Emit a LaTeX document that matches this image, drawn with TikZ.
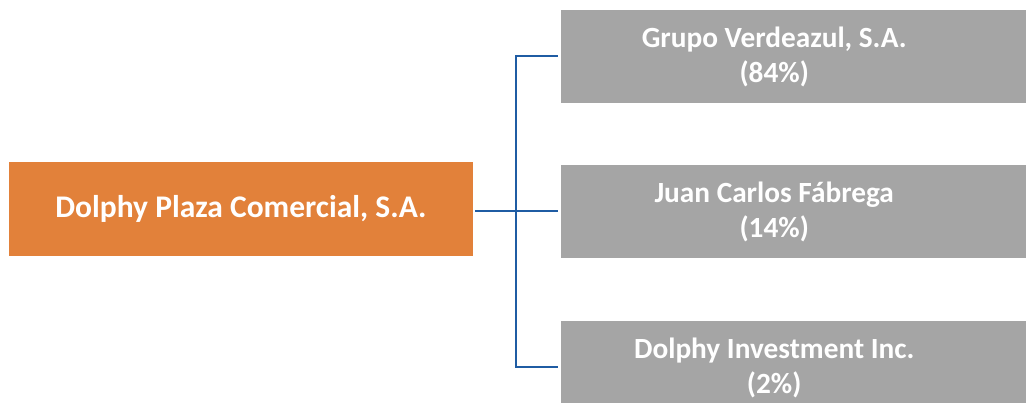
\documentclass[tikz,border=0pt]{standalone}
\usepackage{fontspec}
\setmainfont{Carlito}
\usetikzlibrary{positioning}
\definecolor{plazaorange}{RGB}{226,129,58}
\definecolor{ownergray}{RGB}{165,165,165}
\definecolor{linkblue}{RGB}{31,92,163}
\begin{document}
\begin{tikzpicture}[x=1pt,y=1pt,
	company/.style={fill=plazaorange, text=white, font=\bfseries\fontsize{31.5}{36}\selectfont, minimum width=464pt, minimum height=94pt, inner sep=0pt},
	owner/.style={fill=ownergray, text=white, font=\bfseries\fontsize{29.3}{35}\selectfont, minimum height=93pt, inner sep=0pt, anchor=west},
	link/.style={draw=linkblue, line width=2pt, shorten >=3pt}]
		
		\useasboundingbox (0,0) rectangle (1026,-403);
		
		\node[company] (plaza) at (241,-209) {Dolphy Plaza Comercial, S.A.};
		
		\node[owner] (verde) at (561,-56.5) {\parbox{426pt}{\centering Grupo Verdeazul, S.A.\\(84\%)}\rule{39pt}{0pt}};
		\node[owner] (fabrega) at (561,-211.5) {\parbox{426pt}{\centering Juan Carlos Fábrega\\(14\%)}\rule{39pt}{0pt}};
		\node[owner] (invest) at (561,-367.5) {\parbox{426pt}{\centering Dolphy Investment Inc.\\(2\%)}\rule{39pt}{0pt}};
		
		\coordinate (bus) at (516,-211);
		
		\foreach \n in {verde,fabrega,invest}{
			\draw[link] ([xshift=2pt]plaza.east |- bus) -- (bus) |- (\n.west);
		}
	\end{tikzpicture}
\end{document}
